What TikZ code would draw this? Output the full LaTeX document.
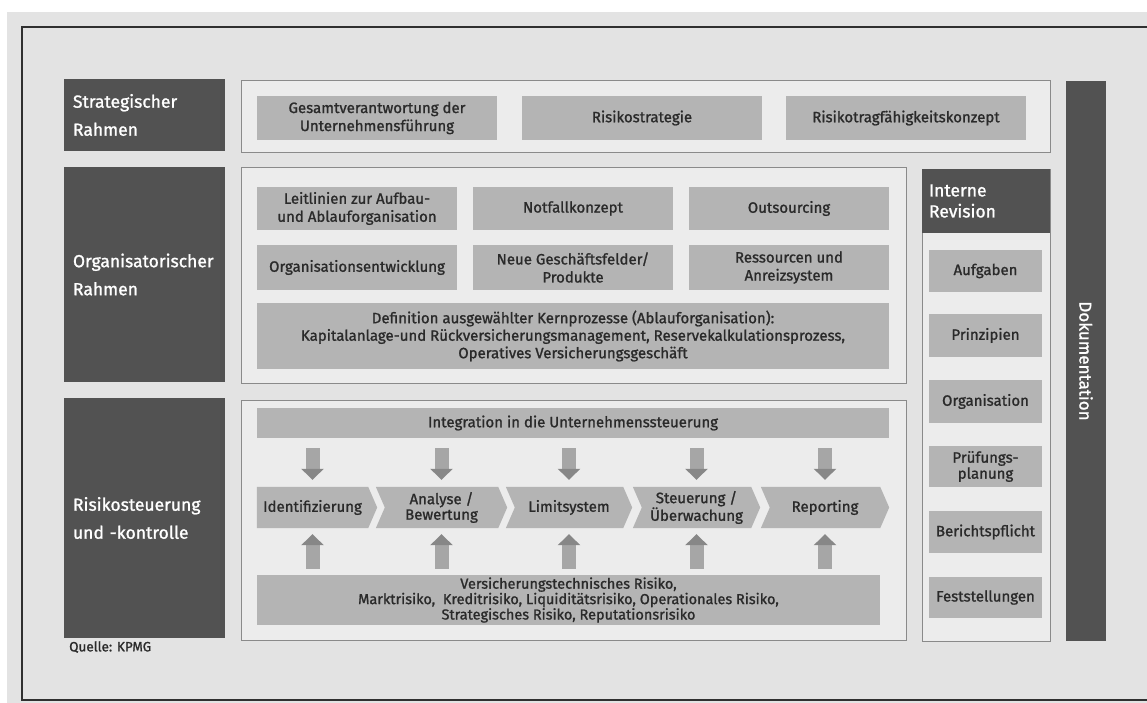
\documentclass[tikz,border=0pt]{standalone}
\usepackage{fontspec}
\setmainfont{Fira Sans}[FakeBold=1.2]
\usetikzlibrary{arrows.meta,calc}
\pgfdeclarelayer{back}
\pgfdeclarelayer{mid}
\pgfsetlayers{back,mid,main}

\definecolor{pagebg}{HTML}{E3E3E3}
\definecolor{framebg}{HTML}{ECECEC}
\definecolor{frameline}{HTML}{8A8A8A}
\definecolor{darkbox}{HTML}{525252}
\definecolor{greybox}{HTML}{B4B4B4}
\definecolor{boxtext}{HTML}{2A2A2A}
\definecolor{arrowshaft}{HTML}{A6A6A6}
\definecolor{arrowhead}{HTML}{878787}
\definecolor{rulecol}{HTML}{303030}

\tikzset{
  area/.style={draw=frameline, line width=0.9pt, fill=framebg, inner sep=0pt},
  band/.style={fill=darkbox, text=white, inner xsep=9pt, inner ysep=0pt,
    align=left, font=\fontsize{17.5}{28}\selectfont},
  item/.style={fill=greybox, text=boxtext, inner sep=0pt, align=center,
    font=\fontsize{15}{18}\selectfont},
  stage/.style={text=boxtext, inner sep=0pt, align=center, minimum height=41pt,
    font=\fontsize{15}{15.5}\selectfont},
  chevfill/.style={fill=greybox},
  feed/.style={line width=14pt, draw=arrowshaft,
    -{Triangle[length=11pt,width=22pt,color=arrowhead]}},
}

\begin{document}
\begin{tikzpicture}[x=1pt, y=-1pt]
\useasboundingbox (0,0) rectangle (1147,703);

% paper and outer rule
\begin{pgfonlayer}{back}
  \fill[pagebg] (7,12) rectangle (1147,703);
  \draw[rulecol, line width=2pt] (1147,27.5) -- (22,27.5) -- (22,700) -- (1147,700);
\end{pgfonlayer}

% row headers
\node[band, text width=143pt, minimum height=72pt] (hstrat) at (144.5,115) {Strategischer\\Rahmen};
\node[band, text width=143pt, minimum height=215pt] (horg) at (144.5,274.5) {Organisatorischer\\Rahmen};
\node[band, text width=143pt, minimum height=240pt] (hrisk) at (144.5,518) {Risikosteuerung\\und -kontrolle};

% framed areas
\begin{pgfonlayer}{back}
  \node[area, minimum width=809pt, minimum height=72pt] (astrat) at (645.5,116) {};
  \node[area, minimum width=665pt, minimum height=216pt] (aorg) at (573.5,275) {};
  \node[area, minimum width=665pt, minimum height=240pt] (arisk) at (573.5,520) {};
  \node[area, minimum width=128pt, minimum height=472pt] (arev) at (986,405) {};
\end{pgfonlayer}

% strategic framework
\node[item, minimum width=240pt, minimum height=44pt] (gesamt) at (377,118) {Gesamtverantwortung der\\Unternehmensführung};
\node[item, minimum width=240pt, minimum height=44pt] (rstrat) at (642,118) {Risikostrategie};
\node[item, minimum width=240pt, minimum height=44pt] (rtf) at (906,118) {Risikotragfähigkeitskonzept};

% organisational framework
\node[item, minimum width=200pt, minimum height=43pt] (leit) at (357,208.5) {Leitlinien zur Aufbau-\\und Ablauforganisation};
\node[item, minimum width=200pt, minimum height=43pt] (notf) at (573,208.5) {Notfallkonzept};
\node[item, minimum width=200pt, minimum height=43pt] (outs) at (789,208.5) {Outsourcing};
\node[item, minimum width=200pt, minimum height=45pt] (orgent) at (357,267.5) {Organisationsentwicklung};
\node[item, minimum width=200pt, minimum height=45pt] (neue) at (573,267.5) {Neue Geschäftsfelder/\\Produkte};
\node[item, minimum width=200pt, minimum height=45pt] (ress) at (789,267.5) {Ressourcen und\\Anreizsystem};
\node[item, minimum width=632pt, minimum height=66pt, font=\fontsize{15}{17.5}\selectfont] (kern) at (573,336)
  {Definition ausgewählter Kernprozesse (Ablauforganisation):\\Kapitalanlage-und Rückversicherungsmanagement, Reservekalkulationsprozess,\\Operatives Versicherungsgeschäft};

% risk control
\node[item, minimum width=632pt, minimum height=30pt] (integ) at (573,423) {Integration in die Unternehmenssteuerung};
\node[item, minimum width=623pt, minimum height=50pt, font=\fontsize{14.5}{13.5}\selectfont] (risks) at (568.5,600)
  {Versicherungstechnisches Risiko,\\Marktrisiko,\ \ Kreditrisiko, Liquiditätsrisiko, Operationales Risiko,\\Strategisches Risiko, Reputationsrisiko};

\node[stage, minimum width=111pt] (c1) at (312.5,507.5) {Identifizierung};
\node[stage, minimum width=122pt] (c2) at (441.5,507.5) {Analyse /\\Bewertung};
\node[stage, minimum width=117pt] (c3) at (569,507.5) {Limitsystem};
\node[stage, minimum width=118pt] (c4) at (696.5,507.5) {Steuerung /\\Überwachung};
\node[stage, minimum width=119pt] (c5) at (825,507.5) {Reporting};

\begin{pgfonlayer}{mid}
  \fill[chevfill] (c1.north west) -- (c1.north east) -- ($(c1.east)+(9,0)$) -- (c1.south east) -- (c1.south west) -- cycle;
  \foreach \c in {c2,c3,c4,c5}{
    \fill[chevfill] ($(\c.north west)+(-4.5,0)$) -- ($(\c.north east)+(-4.5,0)$) -- ($(\c.east)+(4.5,0)$)
      -- ($(\c.south east)+(-4.5,0)$) -- ($(\c.south west)+(-4.5,0)$) -- ($(\c.west)+(4.5,0)$) -- cycle;
  }
\end{pgfonlayer}

\foreach \c in {c1,c2,c3,c4,c5}{
  \draw[feed, shorten <=10pt, shorten >=7pt] (integ.south -| \c) -- (\c.north);
  \draw[feed, shorten <=6pt, shorten >=6pt] (risks.north -| \c) -- (\c.south);
}

% internal audit
\node[fill=darkbox, text=white, inner xsep=7pt, inner ysep=0pt, align=left, text width=114pt,
  minimum height=64pt, font=\fontsize{17.5}{21}\selectfont] (rev) at (986,201) {Interne\\Revision};
\node[item, minimum width=113pt, minimum height=42pt] (aufg) at (985.5,271) {Aufgaben};
\node[item, minimum width=113pt, minimum height=43pt] (prinz) at (985.5,335.5) {Prinzipien};
\node[item, minimum width=113pt, minimum height=43pt] (orga) at (985.5,401.5) {Organisation};
\node[item, minimum width=113pt, minimum height=41pt, font=\fontsize{15}{16}\selectfont] (pruef) at (985.5,466.5) {Prüfungs-\\planung};
\node[item, minimum width=113pt, minimum height=42pt] (bericht) at (985.5,532) {Berichtspflicht};
\node[item, minimum width=113pt, minimum height=41pt] (fest) at (985.5,597.5) {Feststellungen};

% documentation bar
\node[fill=darkbox, text=white, inner sep=0pt, rotate=-90, minimum width=560pt, minimum height=40pt,
  font=\fontsize{17}{18}\selectfont] (doku) at (1086,361) {Dokumentation};

% source
\node[anchor=west, inner sep=0pt, text=boxtext, font=\fontsize{13.5}{15}\selectfont] (quelle) at (69,647) {Quelle: KPMG};
\end{tikzpicture}
\end{document}
